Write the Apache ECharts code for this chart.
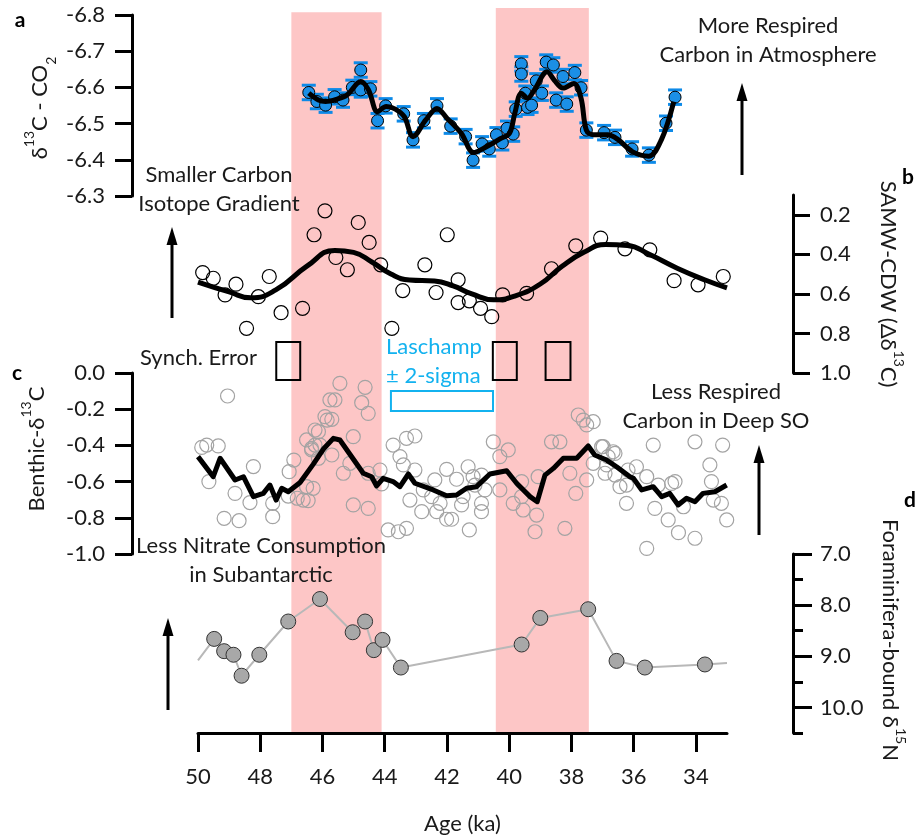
<!DOCTYPE html>
<html>
<head>
<meta charset="utf-8">
<script src="https://cdn.jsdelivr.net/npm/echarts@6/dist/echarts.min.js"></script>
<style>
  html, body { margin: 0; padding: 0; background: #fff; }
  #chart { width: 923px; height: 837px; }
</style>
</head>
<body>
<div id="chart"></div>
<script>
// ---- data (ages in ka) ----
const xTicks = [50, 48, 46, 44, 42, 40, 38, 36, 34];
const pinkBands = [[47.0, 44.1], [40.43, 37.44]];

// a: d13C-CO2 ice core points and spline
const co2Age = [46.44, 46.18, 45.90, 45.61, 45.34, 45.04, 44.77, 44.77, 44.46, 44.23, 43.97, 43.39, 43.09, 42.74, 42.32,
  41.88, 41.40, 41.16, 40.87, 40.64, 40.41, 40.22, 40.07, 39.87, 39.79, 39.61, 39.61, 39.48, 39.41, 39.28, 39.13, 38.95,
  38.81, 38.58, 38.49, 38.27, 38.15, 37.89, 37.69, 37.52, 36.95, 36.60, 36.05, 35.51, 34.96, 34.67];
const co2Val = [-6.586, -6.561, -6.551, -6.574, -6.565, -6.600, -6.648, -6.593, -6.596, -6.508, -6.549, -6.527, -6.455, -6.508, -6.549,
  -6.493, -6.464, -6.399, -6.444, -6.430, -6.469, -6.447, -6.487, -6.471, -6.540, -6.665, -6.637, -6.584, -6.545, -6.551, -6.618, -6.584,
  -6.670, -6.662, -6.565, -6.630, -6.554, -6.641, -6.599, -6.482, -6.475, -6.462, -6.430, -6.413, -6.501, -6.573];
const co2Err = 0.02;
const co2FitAge = [46.44, 46.13, 45.90, 45.55, 45.21, 44.77, 44.52, 44.23, 43.95, 43.66, 43.37, 43.09, 42.68, 42.32, 42.00,
  41.54, 41.14, 40.73, 40.27, 39.99, 39.82, 39.61, 39.41, 39.19, 38.78, 38.55, 38.27, 37.92, 37.69, 37.52, 37.29, 36.83,
  36.49, 36.03, 35.51, 35.11, 34.71];
const co2FitVal = [-6.584, -6.565, -6.561, -6.567, -6.579, -6.616, -6.593, -6.533, -6.547, -6.540, -6.519, -6.464, -6.510, -6.542, -6.515,
  -6.473, -6.420, -6.436, -6.459, -6.473, -6.528, -6.584, -6.570, -6.593, -6.643, -6.620, -6.598, -6.611, -6.570, -6.482, -6.469, -6.469,
  -6.455, -6.422, -6.410, -6.455, -6.561];

// b: SAMW-CDW gradient
const sammwAge = [49.85, 49.51, 49.13, 48.78, 48.44, 48.06, 47.71, 47.33, 46.64, 46.27, 45.92, 45.57, 45.20, 44.85, 44.50,
  44.13, 43.77, 43.42, 42.71, 42.35, 41.99, 41.64, 41.64, 41.28, 40.92, 40.56, 40.21, 39.44, 38.64, 37.86, 37.06, 36.28,
  35.48, 34.70, 33.93, 33.12];
const sammwVal = [0.492, 0.521, 0.605, 0.551, 0.774, 0.614, 0.512, 0.695, 0.673, 0.301, 0.180, 0.416, 0.478, 0.239, 0.340,
  0.453, 0.774, 0.583, 0.453, 0.593, 0.301, 0.529, 0.644, 0.635, 0.673, 0.715, 0.605, 0.597, 0.473, 0.357, 0.318, 0.372,
  0.377, 0.533, 0.554, 0.512];
const sammwFitAge = [50.0, 49.0, 48.3, 47.5, 46.5, 45.6, 45.0, 44.4, 43.8, 43.2, 42.4, 41.8, 41.2, 40.5, 39.8, 39.0, 38.3,
  37.6, 36.9, 36.2, 35.5, 34.6, 33.7, 33.0];
const sammwFitVal = [0.54, 0.59, 0.62, 0.58, 0.46, 0.38, 0.39, 0.44, 0.50, 0.53, 0.535, 0.56, 0.60, 0.63, 0.61, 0.55, 0.46,
  0.39, 0.35, 0.355, 0.40, 0.47, 0.53, 0.57];

// c: benthic d13C
const benthicAge = [49.05, 49.88, 49.72, 49.35, 49.65, 48.81, 48.22, 48.33, 49.16, 48.68, 47.60, 47.60, 47.10, 47.07, 46.92,
  46.81, 46.51, 46.46, 46.35, 46.24, 46.13, 45.92, 45.76, 45.44, 44.63, 45.60, 44.74, 44.53, 45.85, 45.70, 46.24, 46.51,
  46.35, 46.08, 45.70, 45.01, 45.33, 44.53, 44.15, 44.10, 45.01, 44.53, 46.62, 43.73, 43.30, 43.03, 43.51, 43.40, 43.03,
  43.19, 42.76, 42.49, 42.81, 42.33, 42.01, 42.39, 42.01, 41.69, 41.85, 43.89, 43.56, 43.30, 41.48, 41.53, 41.32, 41.16,
  41.10, 40.89, 40.78, 40.89, 41.28, 40.51, 40.03, 40.30, 39.60, 39.60, 39.55, 39.07, 39.12, 39.17, 38.64, 38.37, 38.21,
  38.05, 37.86, 37.78, 37.62, 37.51, 37.30, 37.03, 37.30, 36.82, 36.60, 37.51, 36.92, 36.44, 36.23, 36.98, 36.66, 36.87,
  36.60, 36.23, 35.91, 35.58, 35.37, 35.21, 35.32, 34.89, 34.78, 34.67, 34.56, 34.40, 34.03, 34.03, 33.55, 33.50, 33.44,
  33.18, 33.14, 33.01, 35.58, 36.18, 46.30, 46.13, 45.12, 42.22, 40.89, 40.30, 39.87];
const benthicVal = [-0.127, -0.411, -0.398, -0.403, -0.600, -0.665, -0.517, -0.716, -0.803, -0.816, -0.720, -0.794, -0.680, -0.545, -0.481,
  -0.692, -0.628, -0.705, -0.425, -0.398, -0.324, -0.241, -0.149, -0.057, -0.079, -0.149, -0.164, -0.223, -0.260, -0.256, -0.315, -0.370,
  -0.416, -0.398, -0.453, -0.352, -0.554, -0.554, -0.536, -0.613, -0.729, -0.748, -0.702, -0.398, -0.361, -0.348, -0.462, -0.508, -0.536,
  -0.702, -0.646, -0.683, -0.766, -0.766, -0.808, -0.591, -0.532, -0.587, -0.808, -0.867, -0.877, -0.858, -0.683, -0.729, -0.518, -0.573,
  -0.619, -0.564, -0.646, -0.720, -0.867, -0.380, -0.425, -0.462, -0.600, -0.683, -0.757, -0.573, -0.785, -0.877, -0.380, -0.380, -0.858,
  -0.554, -0.665, -0.232, -0.260, -0.287, -0.269, -0.407, -0.499, -0.462, -0.444, -0.591, -0.554, -0.628, -0.720, -0.407, -0.435, -0.508,
  -0.564, -0.619, -0.518, -0.573, -0.398, -0.619, -0.748, -0.812, -0.610, -0.600, -0.882, -0.739, -0.380, -0.913, -0.508, -0.600, -0.702,
  -0.720, -0.398, -0.812, -0.969, -0.536, -0.637, -0.471, -0.499, -0.720, -0.766, -0.646, -0.720];
const benthicFitAge = [50.00, 49.51, 49.29, 48.81, 48.54, 48.22, 47.90, 47.69, 47.49, 47.31, 47.10, 46.72, 46.30, 45.97, 45.65,
  45.44, 44.69, 44.42, 44.26, 44.05, 43.73, 43.51, 43.24, 43.03, 42.44, 42.01, 41.69, 41.37, 41.05, 40.62, 40.08, 39.76,
  39.33, 39.10, 38.85, 38.58, 38.26, 37.83, 37.46, 37.25, 36.87, 36.55, 36.12, 36.01, 35.74, 35.37, 35.10, 34.84, 34.57,
  34.30, 34.03, 33.77, 33.39, 33.01];
const benthicFitVal = [-0.462, -0.573, -0.471, -0.591, -0.573, -0.683, -0.665, -0.619, -0.702, -0.637, -0.656, -0.605, -0.505, -0.420, -0.361,
  -0.370, -0.554, -0.573, -0.624, -0.582, -0.600, -0.628, -0.558, -0.609, -0.646, -0.678, -0.674, -0.637, -0.628, -0.558, -0.540, -0.609,
  -0.683, -0.711, -0.564, -0.527, -0.471, -0.471, -0.403, -0.453, -0.481, -0.518, -0.573, -0.582, -0.646, -0.628, -0.683, -0.665, -0.729,
  -0.692, -0.711, -0.665, -0.656, -0.619];

// d: foraminifera-bound d15N
const nitrAge = [49.48, 49.16, 48.86, 48.60, 48.03, 47.10, 46.08, 45.03, 44.63, 44.35, 44.07, 43.48, 39.60, 39.00, 37.46,
  36.55, 35.64, 33.71];
const nitrVal = [8.66, 8.90, 8.97, 9.38, 8.97, 8.32, 7.88, 8.53, 8.32, 8.88, 8.68, 9.22, 8.77, 8.25, 8.08, 9.09, 9.22, 9.16];
const nitrLineAge = [50.0].concat(nitrAge, [33.0]);
const nitrLineVal = [9.08].concat(nitrVal, [9.13]);

// chronology boxes
const synchBoxes = [[47.1, 0.77], [40.14, 0.77], [38.43, 0.8]];
const laschampBox = [43.80, 40.52, -0.099, -0.21];

const FONT = 'Lato, "Open Sans", sans-serif';
const FS = 22;
const TXT = '#1a1a1a';
const zip = (a, b) => a.map((v, i) => [v, b[i]]);

const chart = echarts.init(document.getElementById('chart'));

function xAx(grid, show) {
  return {
    type: 'value', gridIndex: grid, min: 33, max: 50, inverse: true, show: show,
    splitLine: { show: false },
    axisLine: { show: show, lineStyle: { color: '#000', width: 3 } },
    axisTick: { show: show, length: 19, lineStyle: { color: '#000', width: 3 }, customValues: xTicks },
    axisLabel: { show: show, customValues: xTicks, margin: 33, fontSize: FS, fontFamily: FONT, color: TXT },
    name: show ? 'Age (ka)' : '', nameLocation: 'middle', nameGap: 80,
    nameTextStyle: { fontSize: FS, fontFamily: FONT, color: TXT }
  };
}

function yAx(grid, pos, min, max, inv, ticks, extra) {
  return Object.assign({
    type: 'value', gridIndex: grid, position: pos, offset: 66, min: min, max: max, inverse: inv,
    splitLine: { show: false },
    axisLine: { show: true, lineStyle: { color: '#000', width: 3 } },
    axisTick: { show: true, length: 17, lineStyle: { color: '#000', width: 3 }, customValues: ticks },
    axisLabel: {
      customValues: ticks, margin: 27, fontSize: FS, fontFamily: FONT, color: TXT,
      formatter: v => (Math.abs(v) < 1e-9 ? 0 : v).toFixed(1)
    }
  }, extra || {});
}

const sup = { fontSize: 14, fontFamily: FONT, fill: TXT, verticalAlign: 'top', lineHeight: 16 };
const sub = { fontSize: 14, fontFamily: FONT, fill: TXT, verticalAlign: 'bottom', lineHeight: 20 };
const nrm = { fontSize: FS, fontFamily: FONT, fill: TXT, lineHeight: 36 };

function title(text, x, y, rot) {
  return {
    type: 'text', x: x, y: y, rotation: rot, z: 100,
    style: { text: text, rich: { n: nrm, s: sup, b: sub }, align: 'center', verticalAlign: 'middle' }
  };
}
function note(text, x, y, align, color) {
  return {
    type: 'text', x: x, y: y, z: 100,
    style: {
      text: text, fontSize: FS, fontFamily: FONT, fill: color || TXT, lineHeight: 29,
      align: align, verticalAlign: 'middle'
    }
  };
}
function letter(t, x, y) {
  return { type: 'text', x: x, y: y, z: 100,
    style: { text: t, fontSize: 21, fontWeight: 'bold', fontFamily: FONT, fill: '#000', align: 'center', verticalAlign: 'middle' } };
}
function arrow(x, tip, bottom) {
  return {
    type: 'group', z: 100, children: [
      { type: 'line', shape: { x1: x, y1: tip + 14, x2: x, y2: bottom }, style: { stroke: '#000', lineWidth: 3 } },
      { type: 'polygon', shape: { points: [[x, tip], [x - 5.5, tip + 18], [x + 5.5, tip + 18]] }, style: { fill: '#000' } }
    ]
  };
}

const option = {
  animation: false,
  backgroundColor: '#fff',
  grid: [
    { left: 198, right: 196, top: 15, height: 181 },
    { left: 198, right: 196, top: 195, height: 178 },
    { left: 198, right: 196, top: 373, height: 181 },
    { left: 198, right: 196, top: 554, height: 179 },
    { left: 198, right: 196, top: 8, height: 725 }
  ],
  xAxis: [xAx(0, false), xAx(1, false), xAx(2, false), xAx(3, true), xAx(4, false)],
  yAxis: [
    yAx(0, 'left', -6.8, -6.3, true, [-6.8, -6.7, -6.6, -6.5, -6.4, -6.3]),
    yAx(1, 'right', 0.1, 1.0, true, [0.2, 0.4, 0.6, 0.8, 1.0]),
    yAx(2, 'left', -1.0, 0.0, false, [0, -0.2, -0.4, -0.6, -0.8, -1.0]),
    yAx(3, 'right', 7, 10.5, true, [7, 8, 9, 10], { axisTick: { show: true, length: 19, lineStyle: { color: '#000', width: 3 }, customValues: [7, 8, 9, 10] } }),
    yAx(3, 'right', 7, 10.5, true, [7.5, 8.5, 9.5, 10.5], {
      axisLine: { show: false },
      axisTick: { show: true, length: 10, lineStyle: { color: '#000', width: 3 }, customValues: [7.5, 8.5, 9.5, 10.5] },
      axisLabel: { show: false }
    }),
    { type: 'value', gridIndex: 4, min: 0, max: 1, show: false }
  ],
  series: [
    {
      type: 'custom', xAxisIndex: 4, yAxisIndex: 5, z: 0, silent: true,
      data: pinkBands.map((b, i) => [b[0], b[1], i === 0 ? 0.994 : 1.0]),
      encode: { x: [0, 1], y: 2 },
      renderItem: (params, api) => {
        const p0 = api.coord([api.value(0), api.value(2)]);
        const p1 = api.coord([api.value(1), 0]);
        return { type: 'rect', shape: { x: p0[0], y: p0[1], width: p1[0] - p0[0], height: p1[1] - p0[1] },
          style: { fill: '#fdc6c6' } };
      }
    },
    {
      type: 'custom', xAxisIndex: 0, yAxisIndex: 0, z: 3,
      data: co2Age.map((a, i) => [a, co2Val[i], co2Err]),
      encode: { x: 0, y: 1 },
      renderItem: (params, api) => {
        const a = api.value(0), v = api.value(1), e = api.value(2);
        const t = api.coord([a, v - e]), b = api.coord([a, v + e]);
        const st = { stroke: '#0d8ae8', lineWidth: 3 };
        return { type: 'group', children: [
          { type: 'line', shape: { x1: t[0], y1: t[1], x2: b[0], y2: b[1] }, style: { stroke: '#0d8ae8', lineWidth: 2 } },
          { type: 'line', shape: { x1: t[0] - 7, y1: t[1], x2: t[0] + 7, y2: t[1] }, style: st },
          { type: 'line', shape: { x1: b[0] - 7, y1: b[1], x2: b[0] + 7, y2: b[1] }, style: st }
        ] };
      }
    },
    {
      type: 'scatter', xAxisIndex: 0, yAxisIndex: 0, z: 4, symbol: 'circle', symbolSize: 12,
      itemStyle: { color: '#1b8fe6', borderColor: '#000', borderWidth: 1, opacity: 1 },
      data: zip(co2Age, co2Val)
    },
    {
      type: 'line', xAxisIndex: 0, yAxisIndex: 0, z: 5, showSymbol: false, symbol: 'none', smooth: 0.35,
      lineStyle: { color: '#000', width: 5 }, data: zip(co2FitAge, co2FitVal)
    },
    {
      type: 'scatter', xAxisIndex: 1, yAxisIndex: 1, z: 4, symbol: 'circle', symbolSize: 14,
      itemStyle: { color: 'rgba(0,0,0,0)', borderColor: '#000', borderWidth: 1.2, opacity: 1 },
      data: zip(sammwAge, sammwVal)
    },
    {
      type: 'line', xAxisIndex: 1, yAxisIndex: 1, z: 5, symbol: 'none', smooth: 0.5,
      lineStyle: { color: '#000', width: 5 }, data: zip(sammwFitAge, sammwFitVal)
    },
    {
      type: 'scatter', xAxisIndex: 2, yAxisIndex: 2, z: 4, symbol: 'circle', symbolSize: 14,
      itemStyle: { color: 'rgba(0,0,0,0)', borderColor: '#a3a3a3', borderWidth: 1.2, opacity: 1 },
      data: zip(benthicAge, benthicVal)
    },
    {
      type: 'line', xAxisIndex: 2, yAxisIndex: 2, z: 5, symbol: 'none',
      lineStyle: { color: '#000', width: 5, join: 'round' }, data: zip(benthicFitAge, benthicFitVal)
    },
    {
      type: 'line', xAxisIndex: 3, yAxisIndex: 3, z: 4, symbol: 'none',
      lineStyle: { color: '#b8b8b8', width: 2 }, data: zip(nitrLineAge, nitrLineVal)
    },
    {
      type: 'scatter', xAxisIndex: 3, yAxisIndex: 3, z: 5, symbol: 'circle', symbolSize: 15,
      itemStyle: { color: '#a8a8a8', borderColor: '#333', borderWidth: 1, opacity: 1 },
      data: zip(nitrAge, nitrVal)
    },
    {
      type: 'custom', xAxisIndex: 1, yAxisIndex: 1, z: 6, clip: false, silent: true,
      data: synchBoxes,
      encode: { x: 0 },
      renderItem: (params, api) => {
        const c = api.value(0), w = api.value(1);
        const p0 = api.coord([c + w / 2, 0.843]), p1 = api.coord([c - w / 2, 1.035]);
        return { type: 'rect', shape: { x: p0[0], y: p0[1], width: p1[0] - p0[0], height: p1[1] - p0[1] },
          style: { fill: 'none', stroke: '#000', lineWidth: 2 } };
      }
    },
    {
      type: 'custom', xAxisIndex: 2, yAxisIndex: 2, z: 6, clip: false, silent: true,
      data: [laschampBox],
      encode: { x: [0, 1], y: [2, 3] },
      renderItem: (params, api) => {
        const p0 = api.coord([api.value(0), api.value(2)]), p1 = api.coord([api.value(1), api.value(3)]);
        return { type: 'rect', shape: { x: p0[0], y: p0[1], width: p1[0] - p0[0], height: p1[1] - p0[1] },
          style: { fill: 'none', stroke: '#13b2ef', lineWidth: 2 } };
      }
    }
  ],
  graphic: [
    letter('a', 20, 20), letter('b', 908, 177), letter('c', 17, 373), letter('d', 910, 500),
    title('{n|δ}{s|13}{n|C - CO}{b|2}', 40, 108, Math.PI / 2),
    title('{n|Benthic-δ}{s|13}{n|C}', 37, 449, Math.PI / 2),
    title('{n|SAMW-CDW (Δδ}{s|13}{n|C)}', 888, 284, -Math.PI / 2),
    title('{n|Foraminifera-bound δ}{s|15}{n|N}', 890, 640, -Math.PI / 2),
    note('More Respired\nCarbon in Atmosphere', 768, 40, 'center'),
    note('Smaller Carbon\nIsotope Gradient', 219, 189, 'center'),
    note('Synch. Error', 140, 358, 'left'),
    note('Laschamp\n± 2-sigma', 386, 361, 'left', '#13b2ef'),
    note('Less Respired\nCarbon in Deep SO', 716, 406, 'center'),
    note('Less Nitrate Consumption\nin Subantarctic', 261, 560, 'center'),
    arrow(742, 83, 175), arrow(172, 227, 318), arrow(759, 445, 535), arrow(168, 618, 710)
  ]
};

chart.setOption(option);
</script>
</body>
</html>
